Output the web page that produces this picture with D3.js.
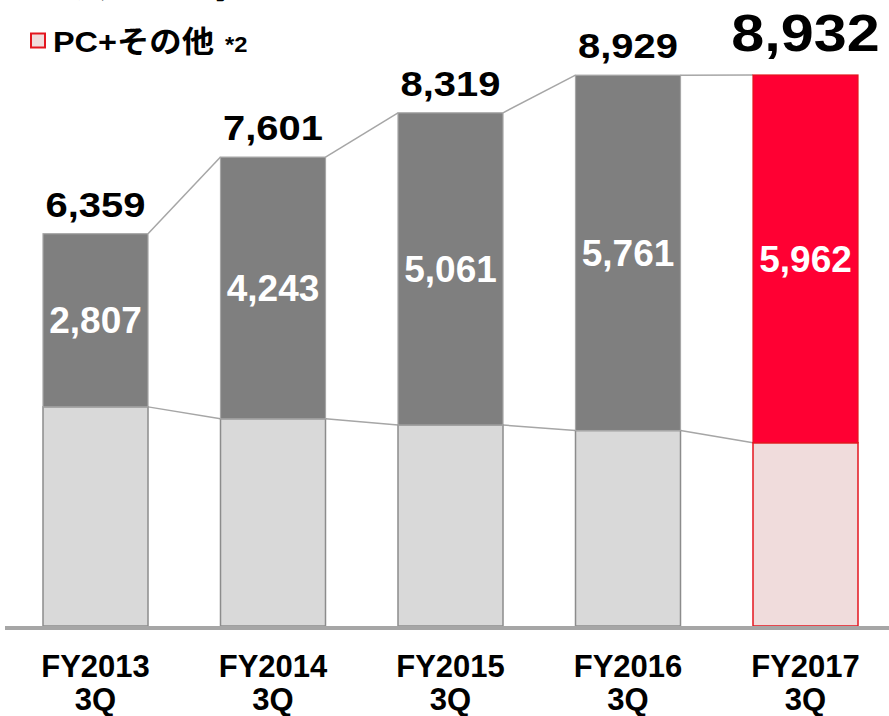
<!DOCTYPE html>
<html>
<head>
<meta charset="utf-8">
<script src="https://cdn.jsdelivr.net/npm/d3@7"></script>
<style>
  html, body { margin: 0; padding: 0; background: #fff; }
  svg { display: block; }
</style>
</head>
<body>
<svg id="chart" width="889" height="716"></svg>
<script>
// ---- data ----
const categories = ["FY2013\n3Q", "FY2014\n3Q", "FY2015\n3Q", "FY2016\n3Q", "FY2017\n3Q"];
const totals = [6359, 7601, 8319, 8929, 8932];
const smartphone = [2807, 4243, 5061, 5761, 5962];
const pcOther = totals.map((t, i) => t - smartphone[i]);
const legendLabels = ["スマートフォン", "PC+その他"];
const legendNotes = ["*1", "*2"];

// ---- layout ----
const W = 889, H = 716;
const baseY = 626, topY = 75;
const barW = 105;
const svg = d3.select("#chart");
const font = "'Liberation Sans', Arial, sans-serif";

const x = d3.scalePoint().domain(d3.range(categories.length)).range([95.5, 805.5]);
const y = d3.scaleLinear().domain([0, d3.max(totals)]).range([baseY, topY]);

const isLast = i => i === categories.length - 1;

// connecting lines (top of totals, top of bottom segment)
for (let i = 0; i < categories.length - 1; i++) {
  [totals, pcOther].forEach(arr => {
    svg.append("line")
      .attr("x1", x(i) + barW / 2).attr("y1", y(arr[i]))
      .attr("x2", x(i + 1) - barW / 2).attr("y2", y(arr[i + 1]))
      .attr("stroke", "#a6a6a6").attr("stroke-width", 1.5);
  });
}

// bottom segments
svg.selectAll("rect.pc").data(pcOther).enter().append("rect")
  .attr("class", "pc")
  .attr("x", (d, i) => x(i) - barW / 2)
  .attr("y", d => y(d))
  .attr("width", barW)
  .attr("height", d => y(0) - y(d))
  .attr("fill", (d, i) => isLast(i) ? "#f0dcdc" : "#d9d9d9")
  .attr("stroke", (d, i) => isLast(i) ? "#e3161f" : "#8c8c8c")
  .attr("stroke-width", 1.5);

// top segments
svg.selectAll("rect.sp").data(smartphone).enter().append("rect")
  .attr("class", "sp")
  .attr("x", (d, i) => x(i) - barW / 2)
  .attr("y", (d, i) => y(totals[i]))
  .attr("width", barW)
  .attr("height", (d, i) => y(pcOther[i]) - y(totals[i]))
  .attr("fill", (d, i) => isLast(i) ? "#ff0033" : "#7f7f7f")
  .attr("stroke", (d, i) => isLast(i) ? "#e3161f" : "#a6a6a6")
  .attr("stroke-width", 1.2);

// baseline axis
svg.append("line")
  .attr("x1", 5).attr("x2", W).attr("y1", baseY + 2).attr("y2", baseY + 2)
  .attr("stroke", "#a6a6a6").attr("stroke-width", 4);

// inner labels
svg.selectAll("text.inner").data(smartphone).enter().append("text")
  .attr("class", "inner")
  .attr("x", (d, i) => x(i))
  .attr("y", (d, i) => (y(totals[i]) + y(pcOther[i])) / 2 + 13)
  .attr("text-anchor", "middle")
  .attr("font-family", font).attr("font-weight", "bold")
  .attr("font-size", 37).attr("fill", "#fff")
  .text(d => d3.format(",")(d));

// total labels
svg.selectAll("text.total").data(totals).enter().append("text")
  .attr("class", "total")
  .attr("text-anchor", "middle")
  .attr("font-family", font).attr("font-weight", "bold")
  .attr("fill", "#000")
  .attr("font-size", (d, i) => isLast(i) ? 52 : 35)
  .attr("transform", (d, i) => `translate(${x(i)},${y(d) - (isLast(i) ? 24 : 17)}) scale(1.14,1)`)
  .text(d => d3.format(",")(d));

// category labels
const cat = svg.selectAll("text.cat").data(categories).enter().append("text")
  .attr("class", "cat")
  .attr("text-anchor", "middle")
  .attr("font-family", font).attr("font-weight", "bold")
  .attr("font-size", 31).attr("fill", "#000")
  .attr("transform", (d, i) => `translate(${x(i)},0)`);
cat.each(function(d) {
  const lines = d.split("\n");
  const t = d3.select(this);
  lines.forEach((l, k) => {
    t.append("tspan").attr("x", 0).attr("y", 677 + k * 33).text(l);
  });
});

// legend
const lg = svg.append("g");
lg.append("rect").attr("x", 31).attr("y", -24).attr("width", 15).attr("height", 15)
  .attr("fill", "#7f7f7f");
lg.append("text").attr("x", 55).attr("y", -2)
  .attr("font-family", "'Noto Sans CJK JP', sans-serif").attr("font-weight", "bold")
  .attr("font-size", 30).attr("fill", "#000").text(legendLabels[0]);
lg.append("rect").attr("x", 31).attr("y", 33.5).attr("width", 14).attr("height", 14)
  .attr("fill", "#f0dcdc").attr("stroke", "#e3161f").attr("stroke-width", 2);
const t2 = lg.append("text")
  .attr("transform", "translate(53,52) scale(1.08,1)")
  .attr("font-family", "'Liberation Sans', 'Noto Sans CJK JP', sans-serif").attr("font-weight", "bold")
  .attr("font-size", 30).attr("fill", "#000");
t2.append("tspan").text(legendLabels[1]);
t2.append("tspan").attr("dx", 10).attr("font-size", 22).text(legendNotes[1]);
</script>
</body>
</html>
